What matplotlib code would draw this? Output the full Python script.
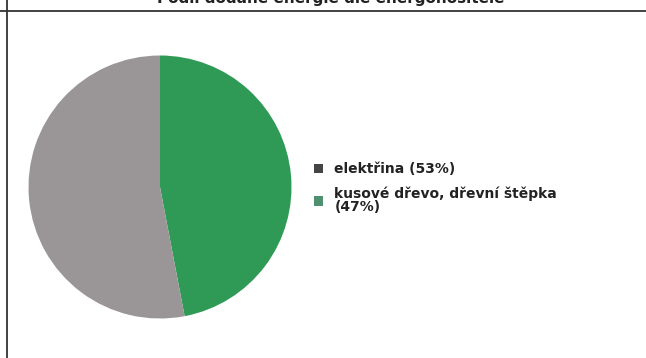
import matplotlib
matplotlib.use("Agg")
import matplotlib.pyplot as plt
from matplotlib.patches import Patch
from matplotlib.lines import Line2D

title = "Podíl dodané energie dle energonositele"
labels = ["elektřina (53%)", "kusové dřevo, dřevní štěpka\n(47%)"]
values = [53, 47]
slice_colors = ["#9a9597", "#2f9a55"]
legend_colors = ["#454545", "#4f9070"]

W, H = 646, 358
fig = plt.figure(figsize=(W / 100, H / 100), dpi=100)

# frame lines
fig.add_artist(Line2D([0, 1], [1 - 11 / H, 1 - 11 / H], color="#333333", lw=1.3))
fig.add_artist(Line2D([7 / W, 7 / W], [0, 1], color="#333333", lw=1.3))

fig.text(331 / W, 1 - 3 / H, title, ha="center", va="baseline",
         fontsize=11, fontweight="bold", color="#222222")

cx, cy, r = 160, 187, 131.5
ax = fig.add_axes([(cx - r) / W, (H - cy - r) / H, 2 * r / W, 2 * r / H])
# draw green first clockwise from top, gray fills the rest
ax.pie(values[::-1], colors=slice_colors[::-1], startangle=90, counterclock=False,
       wedgeprops=dict(linewidth=0))
ax.set_aspect("equal")
ax.set_xlim(-1, 1)
ax.set_ylim(-1, 1)
ax.axis("off")

handles = [Patch(facecolor=c, edgecolor="none") for c in legend_colors]
leg = fig.legend(handles, labels, loc="upper left",
                 bbox_to_anchor=(301 / W, 1 - 150 / H), frameon=False,
                 prop=dict(size=10, weight="bold"), handlelength=0.7, handleheight=0.7,
                 handletextpad=0.8, labelspacing=0.7)
for t in leg.get_texts():
    t.set_color("#222222")
    t.set_linespacing(0.95)

fig.savefig("out.png", dpi=100)
